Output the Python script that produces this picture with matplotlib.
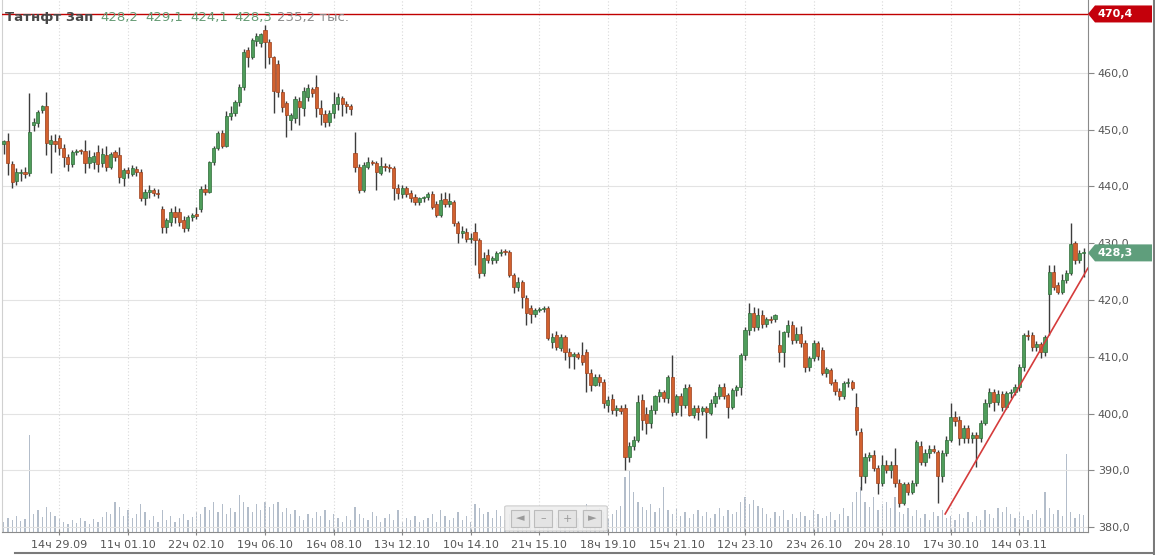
import matplotlib
matplotlib.use("Agg")
import matplotlib.pyplot as plt
from matplotlib.patches import Polygon, FancyBboxPatch, Rectangle
from matplotlib.lines import Line2D
import numpy as np

# Data: hourly candles, Татнефть ап
opens = [447.5, 448.0, 444.0, 441.0, 442.3, 442.6, 442.4, 450.8, 451.2, 453.5,
         454.2, 447.4, 448.0, 448.6, 446.8, 445.2, 444.0, 446.1, 446.3, 446.2,
         444.2, 444.4, 446.0, 444.2, 445.6, 443.5, 446.1, 445.5, 441.5, 442.9,
         442.2, 443.0, 442.6, 438.0, 439.0, 439.3, 438.8, 436.0, 432.9, 433.8,
         435.5, 435.5, 434.1, 432.7, 434.6, 435.2, 436.0, 439.5, 439.0, 444.3,
         446.8, 449.5, 447.2, 452.5, 453.0, 454.8, 457.5, 464.0, 462.8, 465.6,
         465.2, 467.5, 465.5, 462.8, 461.5, 456.7, 454.7, 451.8, 452.0, 455.0,
         453.8, 455.8, 457.2, 457.5, 453.8, 452.8, 451.4, 452.9, 454.5, 455.6,
         454.5, 454.1, 445.9, 443.5, 439.4, 443.5, 444.4, 444.1, 442.4, 443.6,
         443.5, 443.2, 439.8, 438.6, 439.8, 438.9, 438.2, 437.3, 437.9, 438.1,
         438.7, 437.0, 435.0, 437.8, 437.0, 437.2, 433.6, 431.8, 432.0, 430.7,
         432.0, 430.5, 424.8, 428.0, 427.0, 427.1, 428.3, 428.5, 428.4, 424.4,
         422.3, 423.2, 420.3, 418.6, 417.6, 418.2, 418.4, 418.6, 412.6, 413.9,
         411.6, 413.4, 410.9, 410.2, 410.4, 410.3, 410.9, 407.2, 405.1, 406.5,
         405.6, 401.5, 402.6, 400.7, 401.0, 401.0, 392.4, 394.2, 395.4, 402.4,
         400.0, 398.3, 400.7, 403.0, 403.8, 402.8, 406.5, 400.3, 403.0, 401.5,
         404.7, 399.8, 401.0, 400.4, 401.0, 400.1, 401.9, 403.0, 404.7, 403.2,
         401.2, 404.2, 404.6, 410.3, 414.7, 417.7, 415.3, 417.4, 415.8, 416.6,
         416.6, 412.0, 410.9, 414.4, 415.6, 413.0, 414.0, 412.5, 408.2, 409.8,
         412.4, 411.2, 407.2, 407.6, 405.6, 404.0, 403.0, 405.4, 405.6, 401.2,
         396.8, 388.9, 392.4, 392.6, 390.4, 387.8, 391.0, 390.0, 391.0, 387.8,
         384.3, 387.5, 386.2, 387.8, 394.2, 391.5, 393.1, 393.8, 393.3, 388.9,
         393.0, 395.4, 399.4, 398.9, 395.7, 397.4, 395.6, 396.2, 395.6, 398.4,
         401.9, 403.8, 402.1, 403.5, 401.2, 403.6, 403.8, 404.7, 408.2, 413.9,
         413.9, 411.8, 412.3, 410.8, 421.0, 425.0, 422.7, 421.4, 423.6, 424.8,
         430.0, 427.0, 428.2]
highs = [448.2, 449.5, 444.5, 443.2, 443.0, 443.5, 456.5, 452.0, 453.4, 454.4,
         456.7, 449.0, 449.2, 449.0, 447.5, 445.8, 446.5, 446.6, 446.6, 448.2,
         446.5, 446.0, 447.3, 446.8, 447.2, 446.0, 446.5, 447.0, 443.2, 443.5,
         443.7, 443.6, 443.0, 439.5, 440.2, 439.8, 439.5, 436.5, 434.5, 436.2,
         436.5, 436.2, 434.8, 435.0, 435.3, 436.3, 440.0, 440.5, 444.5, 447.2,
         449.8, 449.9, 453.3, 454.2, 455.2, 458.0, 464.2, 464.5, 466.2, 467.0,
         467.0, 468.5, 466.0, 463.0, 462.3, 457.2, 455.0, 453.0, 456.0, 455.8,
         457.5, 458.0, 457.5, 459.6, 455.3, 453.5, 453.5, 456.7, 456.5, 456.0,
         455.0, 454.6, 449.6, 444.0, 444.3, 445.2, 444.7, 444.5, 445.2, 444.2,
         444.0, 443.6, 440.5, 440.3, 440.0, 439.3, 438.6, 438.2, 438.4, 439.0,
         439.2, 437.5, 438.9, 439.0, 438.8, 437.6, 434.0, 433.0, 432.6, 431.8,
         433.6, 431.0, 428.5, 429.0, 427.8, 428.7, 428.9, 429.0, 428.8, 424.8,
         424.0, 423.6, 420.8, 419.2, 418.6, 418.7, 418.9, 418.9, 414.2, 414.5,
         414.0, 413.8, 411.5, 410.8, 410.8, 412.6, 411.4, 407.8, 407.0, 407.0,
         406.0, 403.0, 403.5, 401.5, 401.5, 401.6, 395.0, 396.0, 403.3, 403.4,
         401.2, 401.5, 403.3, 404.3, 404.2, 406.8, 410.3, 403.5, 403.7, 405.2,
         405.2, 401.5, 401.5, 401.3, 401.4, 402.5, 403.8, 405.2, 405.3, 403.6,
         404.5, 405.0, 410.6, 415.2, 419.5, 418.8, 418.6, 418.2, 417.0, 417.2,
         417.5, 414.7, 414.6, 416.5, 416.3, 415.2, 415.5, 413.0, 410.2, 412.9,
         412.8, 411.8, 408.2, 408.0, 406.0, 404.5, 405.8, 406.2, 405.9, 403.7,
         397.4, 393.0, 393.2, 393.6, 391.0, 392.6, 391.8, 391.6, 394.0, 388.4,
         388.0, 388.0, 388.2, 395.3, 395.2, 393.8, 394.5, 394.4, 393.6, 393.5,
         396.0, 401.9, 400.5, 399.5, 398.0, 398.0, 396.8, 396.8, 398.8, 402.5,
         404.5, 404.4, 404.2, 404.0, 403.9, 404.3, 405.2, 408.8, 414.2, 414.7,
         414.3, 412.8, 412.6, 413.8, 426.2, 426.2, 423.2, 424.5, 425.3, 433.6,
         430.4, 428.8, 429.1]
lows = [445.8, 442.0, 439.8, 440.2, 441.0, 441.5, 441.8, 449.8, 450.5, 453.0,
        445.6, 442.4, 446.0, 445.5, 443.5, 442.8, 443.5, 445.6, 445.8, 442.4,
        443.3, 443.0, 442.6, 443.5, 442.8, 443.0, 444.5, 440.6, 440.0, 441.5,
        441.8, 441.8, 437.5, 436.8, 438.0, 438.4, 438.0, 431.8, 431.8, 433.0,
        433.5, 433.0, 432.0, 432.2, 434.0, 434.3, 435.5, 438.5, 438.8, 443.8,
        446.5, 446.8, 446.9, 451.8, 452.5, 454.2, 457.0, 461.0, 462.5, 464.8,
        464.5, 460.8, 461.5, 453.0, 455.8, 453.2, 448.7, 450.0, 451.2, 450.8,
        452.5, 455.0, 455.8, 452.3, 450.8, 450.5, 450.6, 452.0, 453.5, 452.5,
        453.0, 452.6, 442.5, 438.8, 439.0, 443.0, 443.7, 439.4, 442.0, 442.8,
        442.6, 437.6, 437.8, 438.0, 438.2, 437.2, 436.8, 436.8, 437.3, 437.6,
        436.0, 434.6, 434.6, 436.3, 436.3, 433.0, 430.1, 431.0, 430.2, 430.0,
        426.2, 423.9, 424.2, 426.5, 426.3, 426.5, 427.8, 428.0, 424.0, 421.2,
        421.5, 418.6, 415.6, 416.0, 417.0, 417.8, 417.9, 413.0, 411.6, 411.2,
        411.0, 409.5, 408.0, 407.8, 409.6, 408.5, 403.8, 404.0, 404.8, 404.8,
        400.9, 400.2, 400.0, 399.5, 400.0, 390.1, 391.5, 393.5, 395.0, 397.1,
        396.3, 397.5, 400.0, 402.0, 402.0, 401.8, 399.5, 399.8, 399.6, 401.0,
        399.5, 399.2, 398.9, 399.8, 395.7, 399.8, 401.2, 402.5, 402.5, 399.2,
        400.8, 403.0, 403.2, 409.5, 413.8, 414.5, 414.8, 415.0, 415.2, 416.0,
        416.2, 409.1, 408.2, 413.5, 412.2, 412.5, 411.8, 407.4, 407.5, 409.2,
        409.5, 406.8, 406.4, 405.0, 403.2, 402.4, 402.6, 404.6, 404.2, 396.2,
        386.6, 387.8, 391.6, 389.8, 385.8, 387.2, 389.5, 388.6, 387.0, 383.6,
        383.8, 385.6, 385.8, 387.2, 391.0, 390.8, 392.2, 393.0, 384.3, 388.0,
        392.5, 395.0, 397.8, 394.5, 394.8, 394.8, 394.8, 390.6, 395.0, 398.0,
        401.2, 400.5, 401.5, 400.5, 400.8, 402.8, 403.2, 404.0, 407.5, 413.0,
        411.0, 411.0, 409.8, 410.2, 413.8, 421.8, 421.0, 421.0, 423.0, 424.4,
        426.4, 426.5, 424.1]
closes = [448.0, 444.2, 440.8, 442.5, 442.6, 442.2, 449.6, 451.3, 453.1, 454.2,
          447.7, 448.2, 447.5, 446.8, 445.2, 444.0, 446.1, 446.3, 446.2, 444.2,
          445.2, 445.4, 444.0, 445.8, 443.5, 445.8, 445.2, 441.7, 442.9, 442.4,
          443.3, 442.5, 438.0, 439.0, 439.3, 438.8, 438.6, 432.9, 434.1, 435.5,
          434.6, 433.8, 432.7, 434.6, 434.9, 434.8, 439.5, 439.0, 444.3, 446.8,
          449.5, 447.2, 452.5, 453.0, 454.8, 457.5, 463.7, 462.8, 465.8, 466.6,
          466.8, 465.5, 462.8, 456.8, 456.6, 454.0, 452.6, 452.6, 455.5, 454.0,
          456.8, 457.4, 456.4, 453.8, 452.8, 451.4, 452.9, 454.5, 455.8, 454.5,
          454.1, 453.6, 443.5, 439.4, 443.8, 444.4, 444.1, 442.5, 443.6, 443.5,
          443.2, 439.8, 438.9, 439.8, 438.6, 438.0, 437.3, 437.9, 438.2, 438.7,
          436.4, 435.0, 437.6, 437.0, 437.4, 433.6, 431.8, 432.2, 430.7, 431.0,
          430.5, 424.8, 427.4, 427.0, 427.4, 428.3, 428.5, 428.4, 424.4, 422.3,
          423.2, 420.6, 417.7, 417.6, 418.2, 418.4, 418.6, 413.3, 413.5, 411.8,
          413.4, 410.9, 410.2, 410.4, 410.0, 409.0, 407.2, 405.1, 406.5, 405.6,
          401.9, 402.4, 400.7, 401.0, 400.5, 392.4, 394.2, 395.4, 402.1, 398.9,
          398.3, 400.7, 403.0, 403.8, 402.8, 406.5, 400.3, 403.0, 401.5, 404.5,
          399.8, 401.0, 400.2, 400.9, 400.2, 401.9, 403.0, 404.7, 403.0, 401.2,
          404.2, 404.6, 410.3, 414.7, 417.7, 415.3, 417.4, 415.8, 416.6, 416.5,
          417.3, 410.9, 414.4, 415.6, 413.0, 414.0, 412.5, 408.2, 409.8, 412.4,
          410.2, 407.2, 407.8, 405.4, 404.0, 403.0, 405.4, 405.6, 404.5, 397.1,
          388.9, 392.4, 392.6, 390.4, 387.8, 391.0, 390.0, 391.0, 387.8, 384.3,
          387.5, 386.2, 387.8, 394.9, 391.5, 393.1, 393.8, 393.4, 388.9, 393.0,
          395.4, 399.4, 398.6, 395.7, 397.4, 395.6, 396.2, 395.6, 398.4, 401.9,
          403.8, 402.1, 403.5, 401.2, 403.6, 403.8, 404.7, 408.2, 413.9, 413.7,
          411.8, 412.3, 410.8, 413.5, 425.0, 422.3, 421.4, 423.6, 424.8, 429.8,
          427.0, 428.2, 428.3]
# volume, thousand shares
volumes = [140, 196, 168, 224, 154, 182, 1358, 252, 308, 210,
           350, 280, 224, 196, 140, 112, 168, 126, 196, 154,
           112, 182, 140, 210, 280, 252, 420, 350, 224, 308,
           196, 252, 392, 280, 168, 224, 140, 308, 168, 224,
           140, 196, 252, 168, 210, 280, 252, 350, 308, 420,
           280, 392, 252, 336, 280, 518, 420, 350, 280, 392,
           308, 420, 350, 392, 420, 280, 336, 252, 308, 224,
           168, 252, 196, 280, 224, 308, 168, 252, 196, 140,
           224, 168, 350, 252, 196, 168, 280, 224, 140, 196,
           252, 168, 308, 140, 196, 168, 224, 140, 168, 196,
           252, 140, 308, 224, 168, 196, 280, 168, 224, 140,
           392, 336, 252, 280, 196, 308, 224, 168, 252, 308,
           196, 280, 224, 168, 252, 196, 224, 280, 308, 196,
           252, 224, 168, 280, 196, 308, 392, 252, 224, 336,
           280, 196, 252, 308, 364, 770, 868, 560, 420, 350,
           308, 392, 280, 336, 630, 308, 252, 336, 224, 280,
           196, 252, 308, 224, 280, 196, 252, 336, 224, 308,
           252, 280, 420, 490, 392, 448, 364, 336, 252, 196,
           280, 224, 308, 168, 252, 196, 280, 224, 168, 308,
           252, 196, 224, 280, 168, 252, 336, 224, 420, 560,
           630, 420, 350, 490, 308, 392, 420, 336, 490, 280,
           252, 336, 224, 308, 196, 252, 168, 280, 224, 308,
           196, 224, 168, 252, 196, 280, 140, 224, 168, 308,
           252, 196, 336, 280, 350, 252, 196, 280, 224, 168,
           252, 308, 196, 560, 336, 252, 308, 224, 1092, 280,
           196, 252, 235.2]
ticker = "Татнфт 3ап"
alert_level = 470.4
trend_x = [219.7, 253.0]
trend_y = [382.3, 425.6]
tick_pos = [13 + 16 * k for k in range(15)]
tick_labels = ["14ч 29.09", "11ч 01.10", "22ч 02.10", "19ч 06.10", "16ч 08.10",
               "13ч 12.10", "10ч 14.10", "21ч 15.10", "18ч 19.10", "15ч 21.10",
               "12ч 23.10", "23ч 26.10", "20ч 28.10", "17ч 30.10", "14ч 03.11"]

UP, UP_EDGE = "#4f9d5b", "#2f6c38"
DOWN, DOWN_EDGE = "#d2612f", "#9b3f1c"
WICK = "#3c3c3c"

W, H = 1155, 555
fig = plt.figure(figsize=(W / 100, H / 100), dpi=100)
fig.patch.set_facecolor("white")

rect = [2 / W, 1 - 532 / H, 1086 / W, 532 / H]
vax = fig.add_axes(rect, zorder=0)
ax = fig.add_axes(rect, zorder=1)
ax.patch.set_visible(False)

x = np.arange(len(closes))
o = np.array(opens)
h = np.array(highs)
l = np.array(lows)
c = np.array(closes)
up = c >= o

xmin, xmax = -0.37, 253.03
ymin, ymax = 379.12, 472.86

# volume bars
vax.bar(x, volumes, width=0.3, color="#b3bdca", linewidth=0)
vax.set_xlim(xmin, xmax)
vax.set_ylim(0, max(volumes) * 5.5)
vax.axis("off")

# grid
for p in range(380, 470, 10):
    ax.axhline(p, color="#e3e3e3", lw=0.8, zorder=0)
for t in tick_pos:
    ax.axvline(t, color="#d9d9d9", lw=0.8, ls=(0, (1, 2)), zorder=0)

# candles
ax.vlines(x, l, h, color=WICK, lw=1.0, zorder=2)
body_lo = np.minimum(o, c)
body_h = np.maximum(np.abs(c - o), 0.18)
ax.bar(x[up], body_h[up], bottom=body_lo[up], width=0.75,
       color=UP, edgecolor=UP_EDGE, linewidth=0.5, zorder=3)
ax.bar(x[~up], body_h[~up], bottom=body_lo[~up], width=0.75,
       color=DOWN, edgecolor=DOWN_EDGE, linewidth=0.5, zorder=3)

# trend line and alert level
ax.plot(trend_x, trend_y, color="#d53c3c", lw=1.2, zorder=4)
ax.axhline(alert_level, color="#c00000", lw=1.0, zorder=4)

ax.set_xlim(xmin, xmax)
ax.set_ylim(ymin, ymax)

ax.yaxis.tick_right()
ax.set_yticks(range(380, 470, 10))
ax.set_yticklabels([f"{v:.1f}".replace(".", ",") for v in range(380, 470, 10)])
ax.tick_params(axis="y", length=4, color="#888888", labelsize=8,
               labelcolor="#555555", pad=3)
ax.set_xticks(tick_pos)
ax.set_xticklabels(tick_labels)
ax.tick_params(axis="x", length=5, direction="inout", color="#888888",
               labelsize=8, labelcolor="#555555", pad=3)

ax.spines["top"].set_visible(False)
ax.spines["left"].set_color("#d0d0d0")
ax.spines["right"].set_color("#8a8a8a")
ax.spines["bottom"].set_color("#8a8a8a")


def fig_y(price):
    return ax.transData.transform((0, price))[1] / fig.bbox.height


def price_tag(price, color):
    yc = fig_y(price)
    hh = 8.5 / H
    pts = [(1088 / W, yc), (1095 / W, yc + hh), (1152 / W, yc + hh),
           (1152 / W, yc - hh), (1095 / W, yc - hh)]
    fig.add_artist(Polygon(pts, closed=True, transform=fig.transFigure,
                           facecolor=color, edgecolor="none", zorder=5))
    fig.text(1097 / W, yc, f"{price:.1f}".replace(".", ","), color="white",
             fontsize=8, fontweight="bold", ha="left", va="center", zorder=6)


price_tag(alert_level, "#c4000b")
price_tag(closes[-1], "#5f9e7c")

# header
fy = 1 - 17 / H
fig.text(5 / W, fy, ticker, fontsize=9.5, fontweight="bold", color="#474747",
         ha="left", va="center")
vals = [opens[-1], highs[-1], lows[-1], closes[-1]]
for xp, v in zip([100, 145, 190, 234], vals):
    fig.text(xp / W, fy, f"{v:.1f}".replace(".", ","), fontsize=9.5,
             color="#679c76", ha="left", va="center")
fig.text(277 / W, fy, f"{volumes[-1]:.1f}".replace(".", ",") + " тыс.",
         fontsize=9.5, color="#8c8c8c", ha="left", va="center")

# navigation widget
nav = FancyBboxPatch((507 / W, 1 - 530 / H), 98 / W, 23 / H,
                     boxstyle="round,pad=0.002", transform=fig.transFigure,
                     facecolor="#eeeeee", edgecolor="#c9c9c9", lw=0.8,
                     alpha=0.9, zorder=5)
fig.add_artist(nav)
for xc, sym in zip([520, 543, 567, 592], ["◄", "–", "+", "►"]):
    fig.add_artist(Rectangle(((xc - 9) / W, 1 - 527 / H), 18 / W, 17 / H,
                             transform=fig.transFigure, facecolor="#e4e4e4",
                             edgecolor="#bcbcbc", lw=0.8, zorder=6))
    fig.text(xc / W, 1 - 518.5 / H, sym, fontsize=8, color="#9a9a9a",
             ha="center", va="center", zorder=7)

# outer frame lines
fig.add_artist(Line2D([15 / W, 1], [1 - 553 / H, 1 - 553 / H],
                      transform=fig.transFigure, color="#7a7a7a", lw=1.5))
fig.add_artist(Line2D([1 - 1.5 / W, 1 - 1.5 / W], [0, 1],
                      transform=fig.transFigure, color="#7a7a7a", lw=1.5))

fig.savefig("out.png", dpi=100)
